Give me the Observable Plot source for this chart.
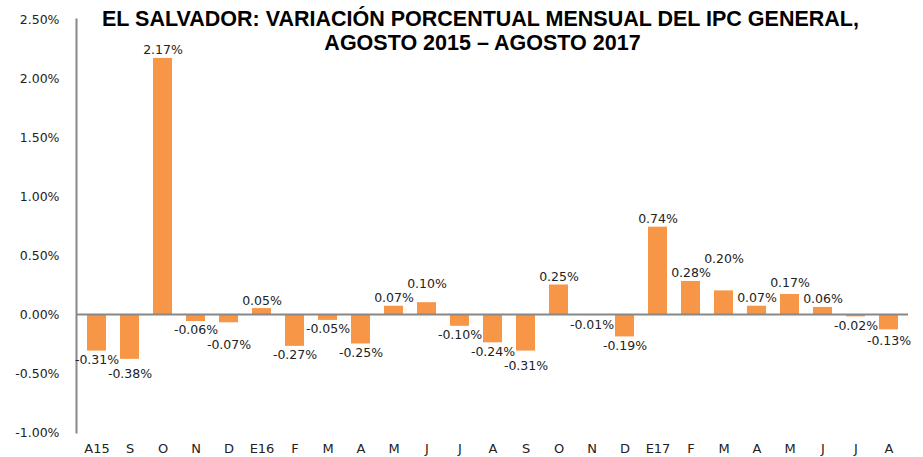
<!DOCTYPE html>
<html>
<head>
<meta charset="utf-8">
<script src="https://cdn.jsdelivr.net/npm/d3@7"></script>
<script src="https://cdn.jsdelivr.net/npm/@observablehq/plot@0.6"></script>
<style>
  html, body { margin: 0; padding: 0; background: #fff; }
</style>
</head>
<body>
<div id="chart"></div>
<script>
const months = ["A15","S","O","N","D","E16","F","M","A","M","J","J","A","S","O","N","D","E17","F","M","A","M","J","J","A"];
const values = [-0.31,-0.38,2.17,-0.06,-0.07,0.05,-0.27,-0.05,-0.25,0.07,0.10,-0.10,-0.24,-0.31,0.25,-0.01,-0.19,0.74,0.28,0.20,0.07,0.17,0.06,-0.02,-0.13];
const yTicks = [-1.0,-0.5,0.0,0.5,1.0,1.5,2.0,2.5];
const titleLines = ["EL SALVADOR: VARIACIÓN PORCENTUAL MENSUAL DEL IPC GENERAL,", "AGOSTO 2015 – AGOSTO 2017"];

const W = 923, H = 457, mL = 76, mR = 15, mT = 19, mB = 25;
const font = "DejaVu Sans, sans-serif";
const labelSize = 12.5;
const xOpts = {type: "band", domain: d3.range(months.length), range: [mL, W - mR], paddingInner: 0.43, paddingOuter: 0.215};
const yOpts = {domain: [-1, 2.5], range: [H - mB, mT]};
const xs = Plot.scale({x: xOpts});
const ys = Plot.scale({y: yOpts});

// measure label widths
const ctx = document.createElement("canvas").getContext("2d");
ctx.font = `${labelSize}px DejaVu Sans`;
const data = values.map((v, i) => ({i, v, label: v.toFixed(2) + "%"}));

// greedy collision avoidance for labels (pixel space via the scales)
const bw = xs.bandwidth;
const boxes = data.map(d => {
  const x0 = xs.apply(d.i), y0 = ys.apply(0), y1 = ys.apply(d.v);
  return {x1: x0, x2: x0 + bw, y1: Math.min(y0, y1), y2: Math.max(y0, y1)};
});
const lh = 14, gap = 4;
const overlaps = (a, b) => a.x1 < b.x2 && b.x1 < a.x2 && a.y1 < b.y2 && b.y1 < a.y2;
const placed = [];
for (const d of data) {
  const cx = xs.apply(d.i) + bw / 2;
  const w = ctx.measureText(d.label).width + 2;
  const yb = ys.apply(d.v);
  let off = gap, box;
  for (; off < 200; off++) {
    box = d.v >= 0
      ? {x1: cx - w / 2, x2: cx + w / 2, y1: yb - off - lh, y2: yb - off}
      : {x1: cx - w / 2, x2: cx + w / 2, y1: yb + off, y2: yb + off + lh};
    if (!placed.some(p => overlaps(p, box)) && !boxes.some(b => overlaps(b, box))) break;
  }
  placed.push(box);
  d.ly = ys.invert(d.v >= 0 ? box.y2 : box.y1);
}
const pos = data.filter(d => d.v >= 0);
const neg = data.filter(d => d.v < 0);

const chart = Plot.plot({
  width: W,
  height: H,
  marginLeft: mL,
  marginRight: mR,
  marginTop: mT,
  marginBottom: mB,
  style: {fontFamily: font, fontSize: labelSize + "px", color: "#222", background: "#fff"},
  x: {...xOpts, label: null},
  y: {...yOpts, label: null},
  marks: [
    Plot.barY(data, {x: "i", y: "v", fill: "#F79646"}),
    Plot.ruleY([0], {stroke: "#888", strokeWidth: 2}),
    Plot.frame({anchor: "left", stroke: "#888", strokeWidth: 2}),
    Plot.axisY({ticks: yTicks, tickSize: 0, tickPadding: 17, tickFormat: d => d.toFixed(2) + "%", fontSize: 12.5, fill: "#222"}),
    Plot.axisX({tickSize: 0, tickPadding: 11, tickFormat: i => months[i], fontSize: 13, fill: "#222"}),
    Plot.text(pos, {x: "i", y: "ly", text: "label", lineAnchor: "bottom", fontSize: labelSize, fill: "#222"}),
    Plot.text(neg, {x: "i", y: "ly", text: "label", lineAnchor: "top", fontSize: labelSize, fill: "#222"}),
    Plot.text([titleLines[0]], {frameAnchor: "top", dx: -12, dy: -9, text: d => d, fontSize: 21.5, fontWeight: "bold", fontFamily: "Liberation Sans, Arial, sans-serif", fill: "#000"}),
    Plot.text([titleLines[1]], {frameAnchor: "top", dx: -10, dy: 15, text: d => d, fontSize: 21.5, fontWeight: "bold", fontFamily: "Liberation Sans, Arial, sans-serif", fill: "#000"})
  ]
});
document.getElementById("chart").appendChild(chart);
</script>
</body>
</html>
